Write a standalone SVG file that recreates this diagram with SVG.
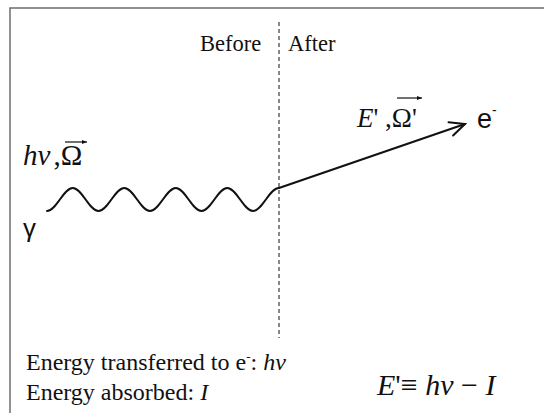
<svg xmlns="http://www.w3.org/2000/svg" width="544" height="413" viewBox="0 0 544 413">
<style>
.serif{font-family:"Liberation Serif","Times New Roman",serif;fill:#111}
.sans{font-family:"Liberation Sans",Arial,sans-serif;fill:#111}
.it{font-style:italic}
.ln{stroke:#111;stroke-width:2;fill:none;stroke-linecap:round}
</style>
<defs>
<marker id="open" markerUnits="userSpaceOnUse" markerWidth="40" markerHeight="40" refX="0" refY="0" viewBox="-20 -20 40 40" orient="auto">
<path d="M-15,-7 L0,0 L-15,7" fill="none" stroke="#111" stroke-width="2" stroke-linecap="round" stroke-linejoin="miter"/>
</marker>
<marker id="small" markerUnits="userSpaceOnUse" markerWidth="20" markerHeight="20" refX="0" refY="0" viewBox="-10 -10 20 20" orient="auto">
<path d="M-5,-2 L0,0 L-5,2 Z" fill="#111"/>
</marker>
</defs>
<rect x="10" y="8" width="600" height="500" fill="#fff" stroke="#6e6e6e" stroke-width="1.5"/>
<g id="connectors">
<line x1="279" y1="22" x2="279" y2="338" stroke="#111" stroke-width="1" stroke-dasharray="4,3"/>
<path class="ln" d="M47,211 C56.36,211 63.39,188 72.75,188 S89.14,211 98.5,211 S114.89,188 124.25,188 S140.64,211 150,211 S166.39,188 175.75,188 S192.14,211 201.5,211 S217.89,188 227.25,188 S243.64,211 253,211 S269.39,188 278.75,188"/>
<line class="ln" x1="279" y1="188" x2="465" y2="124" marker-end="url(#open)"/>
</g>
<g id="labels-top">
<text class="serif" x="200" y="51" font-size="22.5">Before</text>
<text class="serif" x="288" y="51" font-size="22.5">After</text>
</g>
<g id="photon">
<text class="serif" x="23" y="165" font-size="29"><tspan class="it">hv</tspan><tspan dx="3">,Ω</tspan></text>
<line x1="65" y1="142" x2="87" y2="142" stroke="#111" stroke-width="1.2" marker-end="url(#small)"/>
<text class="sans" x="23" y="237" font-size="26">γ</text>
</g>
<g id="electron">
<text class="serif" x="357" y="127" font-size="27"><tspan class="it">E</tspan>' ,Ω'</text>
<line x1="397" y1="98" x2="422" y2="98" stroke="#111" stroke-width="1.2" marker-end="url(#small)"/>
<text class="sans" x="477" y="128" font-size="27">e<tspan font-size="14" dy="-13">-</tspan></text>
</g>
<g id="energy-text">
<text class="serif" x="26" y="370" font-size="24">Energy transferred to e<tspan font-size="13" dy="-9">-</tspan><tspan dy="9">: </tspan><tspan class="it">hv</tspan></text>
<text class="serif" x="26" y="400" font-size="24">Energy absorbed: <tspan class="it">I</tspan></text>
</g>
<g id="formula">
<text class="serif" x="377" y="395" font-size="30"><tspan class="it">E</tspan>'≡ <tspan class="it">hv</tspan> − <tspan class="it">I</tspan></text>
</g>
</svg>
